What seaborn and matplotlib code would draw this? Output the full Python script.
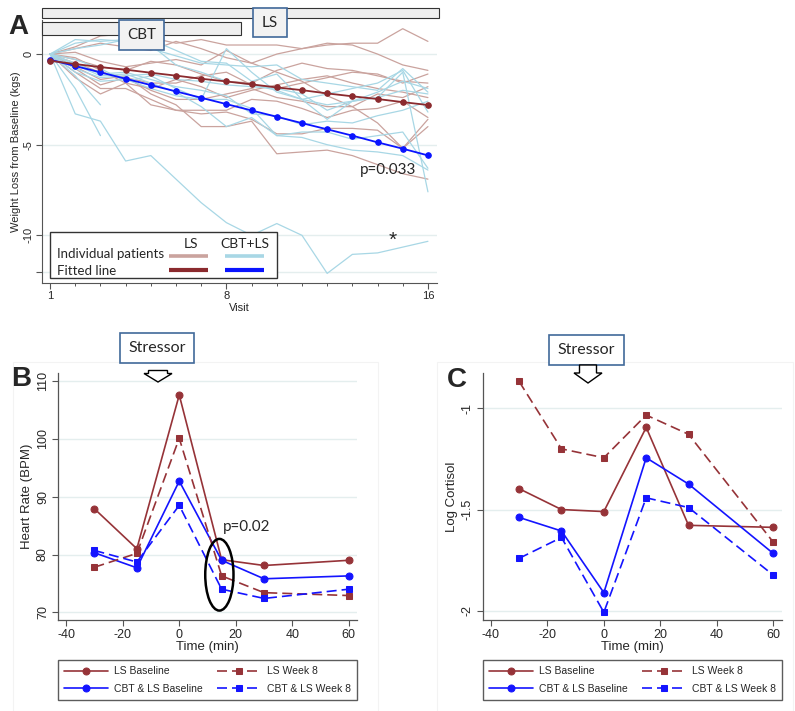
import numpy as np
import pandas as pd
import matplotlib
matplotlib.use("Agg")
import matplotlib.pyplot as plt
import seaborn as sns
from matplotlib.patches import Rectangle, Ellipse, Polygon

# ---------------- data ----------------
visits = list(range(1, 17))

ls_patients = [
    [0, 0.4, 1.0, 1.1, 0.9, 0.6, 0.8, 0.5, 0.5, 0.5, 0.3, 0.5, 0.6, 0.6, 1.4, 0.7],
    [0, 0.1, -0.4, -0.7, -0.5, -0.3, -0.6, 0.2, -0.5, 0.0, 0.3, 0.6, 0.5, 0.0, -0.6, -0.9],
    [0, -0.5, -1.0, -1.3, -1.6, -1.6, -1.2, -1.0, -1.7, -1.9, -1.6, -1.3, -1.0, -1.1, -1.6, -1.1],
    [0, -0.8, -1.7, -1.3, -2.0, -2.5, -2.5, -2.2, -1.9, -2.4, -2.6, -2.9, -2.9, -2.2, -2.4, -1.8],
    [0, -1.3, -2.2, -1.6, -2.8, -3.1, -3.1, -3.1, -2.5, -2.6, -3.0, -3.5, -3.1, -3.0, -2.6, -3.5],
    [0, -0.7, -1.4, -1.2, -2.2, -2.8, -4.0, -4.0, -3.7, -5.5, -5.4, -5.3, -5.6, -6.1, -6.6, -6.9],
    [0, -1.0, -1.9, -1.9, -2.5, -3.1, -3.3, -3.2, -3.6, -4.4, -4.4, -4.1, -4.1, -4.2, -5.2, -4.0],
    [0, -0.3, -0.7, -0.9, -0.4, -0.6, -1.1, -1.5, -1.6, -0.9, -0.5, -0.8, -0.9, -1.2, -1.5, -1.6],
    [0, 0.3, 0.6, 0.4, 0.2, 0.7, 0.3, -0.2, -0.5, -1.0, -1.5, -2.3, -2.9, -3.8, -5.2, -3.6],
    [0, -0.2, -0.9, -1.6, -1.9, -1.4, -1.8, -2.4, -2.0, -1.7, -1.4, -1.2, -1.6, -1.9, -2.1, -2.4],
]
cbt_patients = [
    [0, -3.3, -3.7, -5.9, -5.6, -6.9, -8.2, -9.3, -10.0, -9.35, -10.0, -12.1, -11.05, -10.97, -10.65, -10.33],
    [0, -1.9, -4.5] + [None] * 13,
    [0, -1.2, -2.8] + [None] * 13,
    [0, 0.6, 0.8, 0.7, 0.8, 0.2, -0.4, -0.5, -1.5, -1.1, -2.5, -2.8, -2.6, -2.4, -2.0, -2.2],
    [0, -0.6, -1.2, -1.1, -1.6, -2.1, -2.9, -4.0, -3.5, -4.5, -4.3, -4.3, -4.7, -4.5, -4.3, -6.3],
    [0, -0.3, -0.8, -1.5, -1.2, -1.9, -2.5, 0.3, -1.0, -2.1, -2.5, -3.6, -2.6, -2.4, -1.0, -7.6],
    [0, -0.8, -1.3, -1.2, -1.1, -1.4, -1.5, -1.7, -1.8, -1.9, -2.2, -3.1, -2.6, -2.1, -1.5, -1.9],
    [0, -1.0, -1.5, -1.4, -1.9, -2.3, -2.5, -2.5, -3.0, -4.5, -4.6, -5.0, -5.3, -5.4, -5.6, -6.4],
    [0, 0.8, 0.7, 0.8, 0.3, -0.1, -0.5, -0.6, -0.7, -0.6, -1.4, -1.6, -1.8, -2.0, -0.8, -2.1],
    [0, -0.5, -1.1, -1.0, -1.4, -1.8, -2.0, -2.3, -3.3, -3.4, -3.9, -3.7, -3.8, -3.4, -3.1, -2.6],
    [0, 0.3, 0.5, 0.8, 0.5, -0.6, -1.0, -1.5, -1.7, -2.0, -2.5, -2.2, -1.9, -1.6, -0.9, -3.2],
]
ls_fit = [-0.37, -0.55, -0.72, -0.86, -1.03, -1.19, -1.36, -1.51, -1.67, -1.84, -1.99, -2.17, -2.33, -2.48, -2.65, -2.81]
cbt_fit = [-0.31, -0.66, -1.01, -1.36, -1.71, -2.06, -2.41, -2.76, -3.11, -3.46, -3.81, -4.15, -4.50, -4.87, -5.22, -5.59]

times = [-30, -15, 0, 15, 30, 60]
hr_ls_base = [87.9, 81.0, 107.6, 79.1, 78.1, 79.0]
hr_ls_w8 = [77.8, 80.2, 100.1, 76.3, 73.4, 72.9]
hr_cbt_base = [80.3, 77.7, 92.7, 79.0, 75.8, 76.3]
hr_cbt_w8 = [80.7, 78.7, 88.5, 74.0, 72.4, 74.0]

cort_ls_base = [-1.397, -1.50, -1.51, -1.094, -1.578, -1.588]
cort_ls_w8 = [-0.867, -1.20, -1.244, -1.033, -1.128, -1.661]
cort_cbt_base = [-1.539, -1.606, -1.911, -1.244, -1.374, -1.717]
cort_cbt_w8 = [-1.741, -1.638, -2.008, -1.442, -1.490, -1.824]

series_labels = ["LS Baseline", "CBT & LS Baseline", "LS Week 8", "CBT & LS Week 8"]

# ---------------- style ----------------
sns.set_theme(style="white")
plt.rcParams["font.family"] = ["Liberation Sans", "DejaVu Sans"]
CAL = ["Lato", "DejaVu Sans"]

c_ls_ind = "#caa39e"
c_cbt_ind = "#a8d7e5"
c_ls_fit = "#8b2a2e"
c_cbt_fit = "#0a14ff"
c_red = "#963338"
c_blue = "#1414ff"
c_grid = "#e4eeee"
c_spine = "#555555"
c_boxedge = "#41699a"

W, H = 795, 711
fig = plt.figure(figsize=(W / 100, H / 100), dpi=100)


def fx(x):
    return x / W


def fy(y):
    return 1 - y / H


def axes_px(l, t, r, b):
    return [fx(l), fy(b), (r - l) / W, (b - t) / H]


# ---------------- Panel A ----------------
axA = fig.add_axes(axes_px(42, 20, 437, 283))
rows = []
for i, p in enumerate(ls_patients):
    for v, val in zip(visits, p):
        if val is not None:
            rows.append(("LS", f"L{i}", v, val))
for i, p in enumerate(cbt_patients):
    for v, val in zip(visits, p):
        if val is not None:
            rows.append(("CBT+LS", f"C{i}", v, val))
dfA = pd.DataFrame(rows, columns=["group", "pid", "visit", "loss"])
sns.lineplot(data=dfA, x="visit", y="loss", hue="group", units="pid", estimator=None,
             palette={"LS": c_ls_ind, "CBT+LS": c_cbt_ind}, lw=0.9, legend=False, ax=axA)
sns.lineplot(x=visits, y=cbt_fit, color=c_cbt_fit, lw=1.3, marker="o", markersize=4,
             markeredgecolor=c_cbt_fit, ax=axA, zorder=5)
sns.lineplot(x=visits, y=ls_fit, color=c_ls_fit, lw=1.3, marker="o", markersize=4,
             markeredgecolor=c_ls_fit, ax=axA, zorder=5)

axA.set_xlim(0.68, 16.36)
axA.set_ylim(-12.63, 1.88)
axA.set_yticks([0, -5, -10, -12])
axA.set_yticklabels(["0", "-5", "-10", ""], rotation=90, va="center")
axA.set_xticks([1, 8, 16])
axA.set_xticks(visits, minor=True)
axA.tick_params(axis="both", which="major", labelsize=8, length=4, width=0.8, color=c_spine, direction="out",
                left=True, bottom=True, pad=2)
axA.tick_params(axis="x", which="minor", length=2.5, width=0.7, color=c_spine, direction="out", bottom=True)
for yv in [0, -5, -10, -12]:
    axA.axhline(yv, color=c_grid, lw=1, zorder=0)
for s in ["top", "right"]:
    axA.spines[s].set_visible(False)
for s in ["left", "bottom"]:
    axA.spines[s].set_color(c_spine)
    axA.spines[s].set_linewidth(0.8)
axA.set_xlabel("Visit", fontsize=8, labelpad=1)
axA.set_ylabel("Weight Loss from Baseline (kgs)", fontsize=8, labelpad=2)

# treatment bars
axA.add_patch(Rectangle((0, 1.0076), 1.005, 0.038, transform=axA.transAxes, fc="#efefef", ec="#333333",
                        lw=0.8, clip_on=False, zorder=6))
axA.add_patch(Rectangle((0, 0.943), 0.504, 0.049, transform=axA.transAxes, fc="#efefef", ec="#333333",
                        lw=0.8, clip_on=False, zorder=6))
axA.add_patch(Rectangle((0.534, 0.935), 0.086, 0.1106, transform=axA.transAxes, fc="#f2f2f2",
                        ec=c_boxedge, lw=1.2, clip_on=False, zorder=7))
axA.text(0.577, 0.99, "LS", transform=axA.transAxes, ha="center", va="center", fontsize=11,
         family=CAL, zorder=8)
axA.add_patch(Rectangle((0.195, 0.886), 0.114, 0.114, transform=axA.transAxes, fc="#f2f2f2",
                        ec=c_boxedge, lw=1.2, clip_on=False, zorder=7))
axA.text(0.252, 0.943, "CBT", transform=axA.transAxes, ha="center", va="center", fontsize=11,
         family=CAL, zorder=8)

axA.text(13.3, -6.4, "p=0.033", ha="left", va="center", fontsize=11, family=CAL, zorder=8)
axA.text(14.6, -10.3, "*", ha="center", va="center", fontsize=15, zorder=8)

# custom legend A
axA.add_patch(Rectangle((0.020, 0.019), 0.575, 0.175, transform=axA.transAxes, fc="white",
                        ec="#333333", lw=1, zorder=9))
axA.text(0.377, 0.150, "LS", transform=axA.transAxes, ha="center", va="center", fontsize=10,
         family=CAL, zorder=10)
axA.text(0.514, 0.150, "CBT+LS", transform=axA.transAxes, ha="center", va="center", fontsize=10,
         family=CAL, zorder=10)
axA.text(0.038, 0.112, "Individual patients", transform=axA.transAxes, ha="left", va="center",
         fontsize=9.5, family=CAL, zorder=10)
axA.text(0.038, 0.047, "Fitted line", transform=axA.transAxes, ha="left", va="center",
         fontsize=9.5, family=CAL, zorder=10)
axA.plot([0.3215, 0.420], [0.1027, 0.1027], transform=axA.transAxes, color=c_ls_ind, lw=2.6, zorder=10,
         solid_capstyle="butt")
axA.plot([0.463, 0.562], [0.1027, 0.1027], transform=axA.transAxes, color=c_cbt_ind, lw=2.6, zorder=10,
         solid_capstyle="butt")
axA.plot([0.3215, 0.420], [0.049, 0.049], transform=axA.transAxes, color=c_ls_fit, lw=3.0, zorder=10,
         solid_capstyle="butt")
axA.plot([0.463, 0.562], [0.049, 0.049], transform=axA.transAxes, color=c_cbt_fit, lw=3.0, zorder=10,
         solid_capstyle="butt")
axA.set_xlim(0.68, 16.36)
axA.set_ylim(-12.63, 1.88)

fig.text(fx(8), fy(34), "A", fontsize=20, fontweight="bold", ha="left", va="baseline")


# ---------------- Panels B and C ----------------
def stim_panel(rect, ys, ylim, xlim, yticks, yticklabels, ylabel, letter_xy, box, arrow):
    ax = fig.add_axes(rect)
    specs = [
        (ys[0], c_red, "o", "-", series_labels[0]),
        (ys[1], c_blue, "o", "-", series_labels[1]),
        (ys[2], c_red, "s", (0, (6, 3)), series_labels[2]),
        (ys[3], c_blue, "s", (0, (6, 3)), series_labels[3]),
    ]
    for vals, col, mk, ls, lab in specs:
        sns.lineplot(x=times, y=vals, color=col, marker=mk, markersize=5, markeredgecolor=col,
                     linestyle=ls, lw=1.2, label=lab, ax=ax)
    ax.set_xlim(*xlim)
    ax.set_ylim(*ylim)
    ax.set_xticks([-40, -20, 0, 20, 40, 60])
    ax.set_xticklabels(["-40", "-20", "0", "20", "40", "60"])
    ax.set_yticks(yticks)
    ax.set_yticklabels(yticklabels, rotation=90, va="center")
    for yv in yticks:
        ax.axhline(yv, color=c_grid, lw=1, zorder=0)
    ax.tick_params(axis="both", labelsize=9, length=4.5, width=0.8, color=c_spine, direction="out",
                   left=True, bottom=True, pad=2)
    for s in ["top", "right"]:
        ax.spines[s].set_visible(False)
    for s in ["left", "bottom"]:
        ax.spines[s].set_color(c_spine)
        ax.spines[s].set_linewidth(0.9)
    ax.set_xlabel("Time (min)", fontsize=9.5, labelpad=0)
    ax.set_ylabel(ylabel, fontsize=9.5, labelpad=3)

    h, l = ax.get_legend_handles_labels()
    order = [l.index(s) for s in series_labels]
    lx = (rect[0] + rect[2] / 2)
    leg = ax.legend([h[i] for i in order], [l[i] for i in order], ncol=2, loc="upper center",
                    bbox_to_anchor=(lx, fy(660)), bbox_transform=fig.transFigure, fontsize=7.5,
                    frameon=True, fancybox=False, edgecolor="#333333", handlelength=4.2,
                    handletextpad=0.6, columnspacing=1.4, labelspacing=0.7, borderpad=0.6,
                    borderaxespad=0)
    leg.get_frame().set_linewidth(1.0)

    fig.text(fx(letter_xy[0]), fy(letter_xy[1]), letter_xy[2], fontsize=20, fontweight="bold",
             ha="left", va="baseline")
    bl, bt, br, bb = box
    fig.patches.append(Rectangle((fx(bl), fy(bb)), (br - bl) / W, (bb - bt) / H, transform=fig.transFigure,
                                 fc="white", ec=c_boxedge, lw=1.2, zorder=5))
    fig.text(fx((bl + br) / 2), fy((bt + bb) / 2), "Stressor", ha="center", va="center", fontsize=11.5,
             family=CAL, zorder=6)
    cx, top, shaft_b, tip, sw, hw = arrow
    pts = [(cx - sw, top), (cx + sw, top), (cx + sw, shaft_b), (cx + hw, shaft_b), (cx, tip),
           (cx - hw, shaft_b), (cx - sw, shaft_b)]
    fig.patches.append(Polygon([(fx(a), fy(b)) for a, b in pts], closed=True, transform=fig.transFigure,
                               fc="white", ec="black", lw=1.0, zorder=6))
    return ax


# faint plot-region frames
fig.patches.append(Rectangle((fx(13), fy(711)), (378 - 13) / W, (711 - 362) / H, transform=fig.transFigure,
                             fc="none", ec="#f3f3f3", lw=0.8, zorder=0))
fig.patches.append(Rectangle((fx(437), fy(711)), (793 - 437) / W, (711 - 362) / H, transform=fig.transFigure,
                             fc="none", ec="#f3f3f3", lw=0.8, zorder=0))

axB = stim_panel(axes_px(58, 373, 357, 620), [hr_ls_base, hr_cbt_base, hr_ls_w8, hr_cbt_w8],
                 (68.67, 111.4), (-42.9, 62.9), [70, 80, 90, 100, 110], ["70", "80", "90", "100", "110"],
                 "Heart Rate (BPM)", (11, 386, "B"), (120, 333, 194, 363),
                 (158, 370.5, 373.5, 382, 9.5, 14))
axB.add_patch(Ellipse((14.2, 76.5), 10, 12.4, fill=False, ec="black", lw=1.8, zorder=6))
axB.text(15.3, 84.8, "p=0.02", ha="left", va="center", fontsize=11, family=CAL)

axC = stim_panel(axes_px(483, 373, 782, 620), [cort_ls_base, cort_cbt_base, cort_ls_w8, cort_cbt_w8],
                 (-2.046, -0.825), (-42.8, 63.1), [-1, -1.5, -2], ["-1", "-1.5", "-2"],
                 "Log Cortisol", (447, 387, "C"), (549, 335, 624, 365),
                 (588, 365, 373, 383, 8.5, 14))

fig.savefig("out.png", dpi=100)
